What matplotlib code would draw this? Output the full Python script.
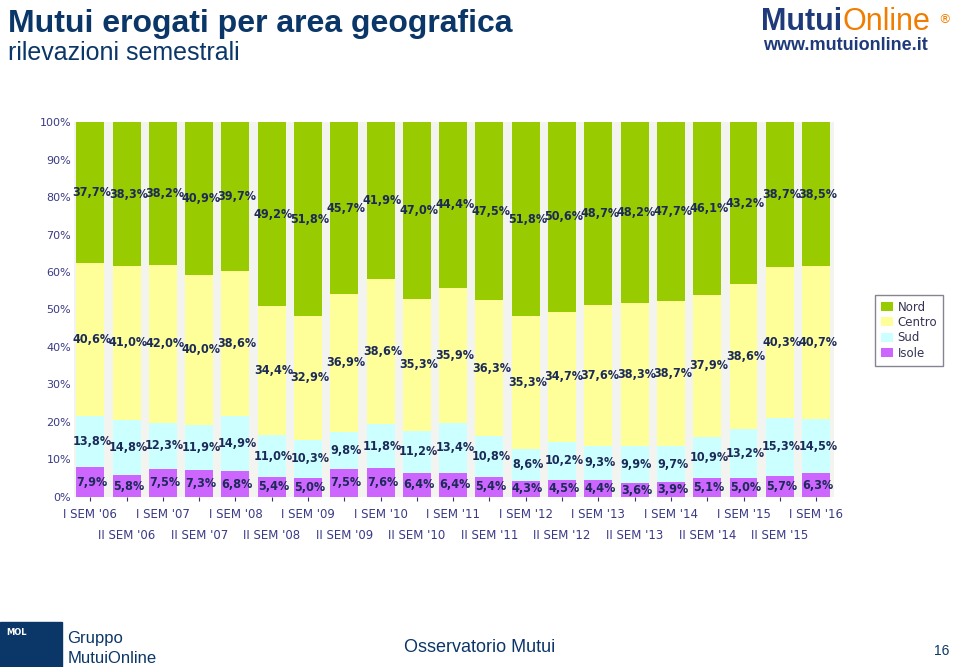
import numpy as np
import matplotlib.pyplot as plt
from matplotlib.patches import Rectangle

periods = ["I SEM '06", "II SEM '06", "I SEM '07", "II SEM '07", "I SEM '08", "II SEM '08",
           "I SEM '09", "II SEM '09", "I SEM '10", "II SEM '10", "I SEM '11", "II SEM '11",
           "I SEM '12", "II SEM '12", "I SEM '13", "II SEM '13", "I SEM '14", "II SEM '14",
           "I SEM '15", "II SEM '15", "I SEM '16"]
isole = [7.9, 5.8, 7.5, 7.3, 6.8, 5.4, 5.0, 7.5, 7.6, 6.4, 6.4, 5.4, 4.3, 4.5, 4.4, 3.6, 3.9, 5.1, 5.0, 5.7, 6.3]
sud = [13.8, 14.8, 12.3, 11.9, 14.9, 11.0, 10.3, 9.8, 11.8, 11.2, 13.4, 10.8, 8.6, 10.2, 9.3, 9.9, 9.7, 10.9, 13.2, 15.3, 14.5]
centro = [40.6, 41.0, 42.0, 40.0, 38.6, 34.4, 32.9, 36.9, 38.6, 35.3, 35.9, 36.3, 35.3, 34.7, 37.6, 38.3, 38.7, 37.9, 38.6, 40.3, 40.7]
nord = [37.7, 38.3, 38.2, 40.9, 39.7, 49.2, 51.8, 45.7, 41.9, 47.0, 44.4, 47.5, 51.8, 50.6, 48.7, 48.2, 47.7, 46.1, 43.2, 38.7, 38.5]

series = [("Isole", isole, "#cc66ff"), ("Sud", sud, "#ccffff"),
          ("Centro", centro, "#ffff99"), ("Nord", nord, "#99cc00")]

navy = "#0b3668"
lab_col = "#1c2a58"
tick_col = "#3a3a85"

fig = plt.figure(figsize=(9.6, 6.67), dpi=100)
ax = fig.add_axes([0.077, 0.255, 0.792, 0.562])
ax.set_facecolor("#f3f3ef")

x = np.arange(len(periods))
bottom = np.zeros(len(periods))
handles = {}
for name, vals, col in series:
    vals = np.array(vals)
    b = ax.bar(x, vals, 0.77, bottom=bottom, color=col, zorder=2)
    handles[name] = b
    for xi, v, b0 in zip(x, vals, bottom):
        ax.text(xi + 0.05, b0 + v / 2, ("%.1f%%" % v).replace(".", ","),
                ha="center", va="center", fontsize=9, fontweight="bold",
                fontstretch="condensed", family="DejaVu Sans",
                color=lab_col, zorder=3)
    bottom = bottom + vals

ax.set_xlim(-0.45, 20.5)
ax.set_ylim(0, 100)
ax.set_yticks(range(0, 101, 10))
ax.set_yticklabels(["%d%%" % v for v in range(0, 101, 10)])
ax.set_xticks(x)
ax.set_xticklabels(periods)
ax.tick_params(axis="x", length=3, color="#333366", labelsize=8.5, labelcolor=tick_col, pad=5)
for tick in ax.xaxis.get_major_ticks()[1::2]:
    tick.set_pad(20)
ax.tick_params(axis="y", length=0, labelsize=8, labelcolor=tick_col, pad=2)
for s in ax.spines.values():
    s.set_visible(False)

leg = fig.legend([handles["Nord"], handles["Centro"], handles["Sud"], handles["Isole"]],
                 ["Nord", "Centro", "Sud", "Isole"], loc="center",
                 bbox_to_anchor=(0.947, 0.505), fontsize=8.5, frameon=True,
                 fancybox=False, edgecolor="#666677", handlelength=1.0, handleheight=0.8,
                 handletextpad=0.4, labelspacing=0.2, borderpad=0.5)
for t in leg.get_texts():
    t.set_color("#333355")

# header
fig.text(0.008, 0.952, "Mutui erogati per area geografica", fontsize=23, fontweight="bold",
         family="Liberation Sans", color=navy, va="baseline")
fig.text(0.008, 0.91, "rilevazioni semestrali", fontsize=18,
         family="Liberation Sans", color=navy, va="baseline")

t1 = fig.text(0.793, 0.955, "Mutui", fontsize=22, fontweight="bold", family="Liberation Sans",
              color="#1f3a7a", va="baseline")
fig.canvas.draw()
bb = t1.get_window_extent()
fig.text(bb.x1 / fig.bbox.width, 0.955, "Online", fontsize=22, family="Liberation Sans",
         color="#f07d00", va="baseline")
fig.text(0.99, 0.965, "®", fontsize=9, color="#f07d00", ha="right", va="baseline")
fig.text(0.795, 0.925, "www.mutuionline.it", fontsize=13, fontweight="bold",
         family="Liberation Sans", color="#1f3a7a", va="baseline")

# footer
fig.patches.append(Rectangle((0.0, 0.0), 0.065, 0.068, transform=fig.transFigure,
                             color=navy, zorder=0))
fig.text(0.006, 0.048, "MOL", fontsize=6, fontweight="bold", color="white")
fig.text(0.07, 0.036, "Gruppo", fontsize=12, family="Liberation Sans", color=navy, va="baseline")
fig.text(0.07, 0.006, "MutuiOnline", fontsize=12, family="Liberation Sans", color=navy, va="baseline")
fig.text(0.5, 0.022, "Osservatorio Mutui", fontsize=13, family="Liberation Sans",
         color=navy, ha="center", va="baseline")
fig.text(0.973, 0.018, "16", fontsize=10, family="Liberation Sans", color=navy, va="baseline")

fig.savefig("out.png", dpi=100)
